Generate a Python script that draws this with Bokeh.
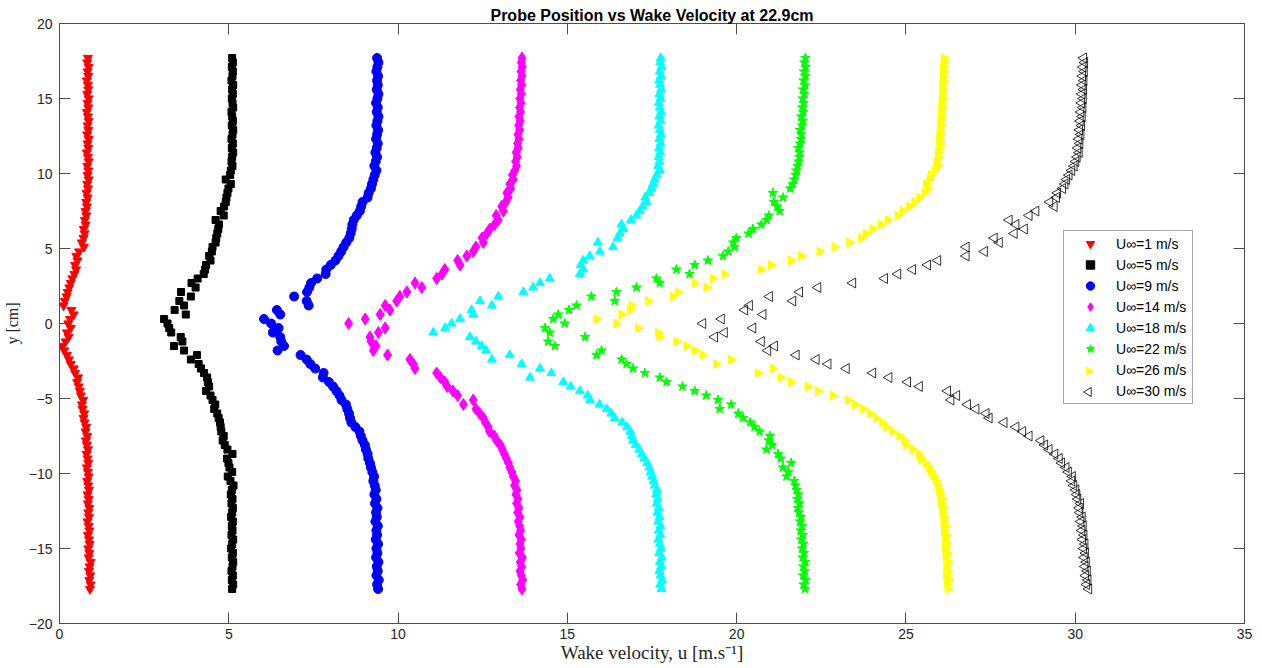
import math

from bokeh.plotting import figure
from bokeh.models import Range1d, LinearAxis, SingleIntervalTicker, Legend, LegendItem
from bokeh.embed import file_html
from bokeh.resources import INLINE

# Probe traverse positions (cm)
probe_y = [
    -17.7, -17.4, -17.1, -16.8, -16.5, -16.2, -15.9, -15.6, -15.3, -15.0,
    -14.7, -14.4, -14.1, -13.8, -13.5, -13.2, -12.9, -12.6, -12.3, -12.0,
    -11.7, -11.4, -11.1, -10.8, -10.5, -10.2, -9.9, -9.6, -9.3, -9.0,
    -8.7, -8.4, -8.1, -7.8, -7.5, -7.2, -6.9, -6.6, -6.3, -6.0,
    -5.7, -5.4, -5.1, -4.8, -4.5, -4.2, -3.9, -3.6, -3.3, -3.0,
    -2.7, -2.4, -2.1, -1.8, -1.5, -1.2, -0.9, -0.6, -0.3, 0.0,
    0.3, 0.6, 0.9, 1.2, 1.5, 1.8, 2.1, 2.4, 2.7, 3.0,
    3.3, 3.6, 3.9, 4.2, 4.5, 4.8, 5.1, 5.4, 5.7, 6.0,
    6.3, 6.6, 6.9, 7.2, 7.5, 7.8, 8.1, 8.4, 8.7, 9.0,
    9.3, 9.6, 9.9, 10.2, 10.5, 10.8, 11.1, 11.4, 11.7, 12.0,
    12.3, 12.6, 12.9, 13.2, 13.5, 13.8, 14.1, 14.4, 14.7, 15.0,
    15.3, 15.6, 15.9, 16.2, 16.5, 16.8, 17.1, 17.4, 17.7,
]

# Measured wake velocity (m/s) at each probe position, per free-stream speed
u_1 = [
    0.90, 0.92, 0.88, 0.91, 0.87, 0.89, 0.92, 0.86, 0.88, 0.85,
    0.89, 0.87, 0.84, 0.88, 0.86, 0.83, 0.87, 0.85, 0.88, 0.84,
    0.86, 0.83, 0.87, 0.85, 0.82, 0.86, 0.84, 0.81, 0.85, 0.83,
    0.80, 0.84, 0.81, 0.78, 0.82, 0.77, 0.79, 0.74, 0.71, 0.73,
    0.68, 0.66, 0.70, 0.63, 0.60, 0.57, 0.52, 0.55, 0.46, 0.42,
    0.33, 0.28, 0.22, 0.14, 0.09, 0.18, 0.27, 0.22, 0.33, 0.26,
    0.31, 0.42, 0.35, 0.12, 0.16, 0.21, 0.24, 0.29, 0.33, 0.38,
    0.44, 0.49, 0.46, 0.53, 0.50, 0.58, 0.72, 0.66, 0.71, 0.74,
    0.72, 0.77, 0.75, 0.79, 0.77, 0.81, 0.79, 0.83, 0.80, 0.84,
    0.82, 0.86, 0.83, 0.85, 0.82, 0.86, 0.84, 0.81, 0.85, 0.83,
    0.86, 0.82, 0.85, 0.83, 0.86, 0.84, 0.81, 0.85, 0.83, 0.86,
    0.82, 0.85, 0.84, 0.81, 0.85, 0.83, 0.86, 0.82, 0.84,
]
u_5 = [
    5.10, 5.13, 5.09, 5.12, 5.08, 5.11, 5.13, 5.09, 5.12, 5.07,
    5.10, 5.13, 5.08, 5.11, 5.09, 5.12, 5.07, 5.10, 5.12, 5.08,
    5.11, 5.06, 5.09, 5.14, 5.05, 4.97, 5.10, 5.02, 4.99, 4.95,
    5.11, 4.96, 4.88, 4.82, 4.85, 4.78, 4.76, 4.74, 4.70, 4.66,
    4.57, 4.60, 4.52, 4.46, 4.33, 4.42, 4.38, 4.36, 4.27, 4.18,
    4.11, 3.88, 4.06, 3.68, 3.38, 3.63, 3.58, 3.30, 3.24, 3.19,
    3.09, 3.73, 3.40, 3.68, 3.54, 3.88, 3.59, 4.02, 3.90, 4.08,
    4.26, 4.30, 4.33, 4.46, 4.42, 4.50, 4.52, 4.61, 4.63, 4.66,
    4.69, 4.71, 4.61, 4.85, 4.76, 4.86, 4.91, 4.93, 4.96, 4.99,
    5.06, 4.91, 5.04, 5.06, 5.11, 5.08, 5.10, 5.13, 5.09, 5.12,
    5.08, 5.11, 5.13, 5.09, 5.12, 5.10, 5.08, 5.13, 5.11, 5.09,
    5.12, 5.10, 5.13, 5.08, 5.11, 5.12, 5.09, 5.12, 5.10,
]
u_9 = [
    9.41, 9.38, 9.43, 9.36, 9.40, 9.37, 9.42, 9.35, 9.39, 9.36,
    9.41, 9.34, 9.38, 9.36, 9.40, 9.33, 9.37, 9.35, 9.39, 9.32,
    9.36, 9.30, 9.34, 9.31, 9.27, 9.29, 9.24, 9.20, 9.17, 9.12,
    9.10, 9.05, 9.02, 8.95, 8.90, 8.86, 8.74, 8.62, 8.58, 8.55,
    8.50, 8.46, 8.33, 8.27, 8.18, 8.08, 7.96, 7.78, 7.80, 7.55,
    7.41, 7.30, 7.12, 6.44, 6.63, 6.55, 6.52, 6.30, 6.47, 6.25,
    6.04, 6.52, 6.42, 7.36, 7.30, 6.93, 7.31, 7.38, 7.43, 7.61,
    7.86, 7.88, 8.01, 8.15, 8.24, 8.32, 8.39, 8.47, 8.56, 8.60,
    8.63, 8.65, 8.69, 8.78, 8.87, 8.91, 8.95, 9.10, 9.13, 9.20,
    9.23, 9.27, 9.31, 9.36, 9.30, 9.34, 9.38, 9.33, 9.37, 9.40,
    9.35, 9.38, 9.41, 9.36, 9.39, 9.42, 9.37, 9.40, 9.35, 9.39,
    9.42, 9.37, 9.40, 9.38, 9.41, 9.36, 9.39, 9.42, 9.38,
]
u_14 = [
    13.66, 13.62, 13.68, 13.64, 13.60, 13.65, 13.61, 13.67, 13.58, 13.63,
    13.60, 13.64, 13.57, 13.62, 13.59, 13.55, 13.60, 13.53, 13.57, 13.50,
    13.54, 13.48, 13.51, 13.44, 13.47, 13.40, 13.36, 13.30, 13.26, 13.20,
    13.14, 13.08, 13.02, 12.91, 12.84, 12.70, 12.66, 12.58, 12.52, 12.41,
    12.30, 11.93, 12.22, 11.76, 11.62, 11.45, 11.38, 11.25, 11.14, 10.50,
    10.45, 10.35, 9.69, 9.27, 9.35, 9.20, 9.17, 9.42, 9.62, 8.54,
    9.03, 9.47, 9.76, 9.62, 9.96, 10.05, 10.26, 10.70, 10.50, 11.14,
    11.30, 11.38, 11.83, 11.76, 12.03, 12.22, 12.30, 12.52, 12.48, 12.62,
    12.71, 12.85, 12.96, 12.90, 13.11, 13.06, 13.18, 13.25, 13.21, 13.33,
    13.30, 13.40, 13.38, 13.45, 13.50, 13.47, 13.52, 13.49, 13.55, 13.53,
    13.57, 13.54, 13.59, 13.56, 13.61, 13.57, 13.62, 13.59, 13.63, 13.60,
    13.64, 13.61, 13.65, 13.62, 13.66, 13.63, 13.67, 13.64, 13.66,
]
u_18 = [
    17.78, 17.74, 17.80, 17.75, 17.72, 17.77, 17.73, 17.79, 17.71, 17.76,
    17.73, 17.69, 17.74, 17.70, 17.75, 17.68, 17.72, 17.66, 17.70, 17.64,
    17.67, 17.62, 17.65, 17.58, 17.55, 17.50, 17.46, 17.42, 17.36, 17.27,
    17.20, 17.12, 17.02, 16.94, 16.90, 16.86, 16.76, 16.62, 16.40, 16.30,
    16.16, 15.95, 15.67, 15.60, 15.37, 15.10, 14.88, 13.90, 14.53, 14.19,
    13.65, 12.77, 13.30, 12.60, 12.47, 12.30, 12.12, 11.04, 11.39, 11.58,
    11.83, 12.22, 12.17, 12.77, 12.42, 12.96, 13.70, 13.99, 14.19, 14.48,
    15.37, 15.47, 15.40, 15.47, 15.66, 15.96, 16.35, 15.90, 16.48, 16.55,
    16.65, 16.60, 16.88, 17.04, 17.14, 17.22, 17.34, 17.30, 17.42, 17.48,
    17.53, 17.58, 17.64, 17.73, 17.68, 17.72, 17.70, 17.74, 17.71, 17.75,
    17.72, 17.76, 17.73, 17.70, 17.75, 17.72, 17.77, 17.73, 17.70, 17.75,
    17.72, 17.77, 17.74, 17.71, 17.76, 17.73, 17.78, 17.74, 17.76,
]
u_22 = [
    22.02, 21.98, 22.04, 21.96, 22.01, 21.97, 22.03, 21.95, 21.99, 21.93,
    21.97, 21.91, 21.95, 21.89, 21.93, 21.87, 21.90, 21.84, 21.81, 21.86,
    21.79, 21.83, 21.77, 21.74, 21.70, 21.47, 21.52, 21.37, 21.61, 21.30,
    21.22, 20.88, 21.05, 20.95, 20.98, 20.68, 20.53, 20.40, 20.19, 20.05,
    19.50, 19.84, 19.45, 19.10, 18.76, 18.40, 17.93, 17.73, 17.29, 16.94,
    16.75, 16.60, 15.86, 16.01, 14.63, 14.43, 15.52, 14.48, 14.34, 14.92,
    14.58, 14.73, 15.05, 15.27, 16.40, 15.71, 16.45, 17.04, 17.73, 17.63,
    18.61, 18.22, 18.76, 19.15, 19.60, 19.75, 19.94, 19.90, 19.99, 20.35,
    20.48, 20.73, 20.88, 20.95, 21.27, 21.20, 21.10, 21.37, 21.07, 21.58,
    21.66, 21.70, 21.74, 21.76, 21.80, 21.83, 21.85, 21.86, 21.82, 21.88,
    21.90, 21.91, 21.87, 21.93, 21.95, 21.91, 21.97, 21.94, 21.98, 21.95,
    22.00, 21.96, 22.02, 21.98, 22.03, 21.99, 22.04, 22.00, 22.03,
]
u_26 = [
    26.25, 26.21, 26.27, 26.19, 26.24, 26.20, 26.26, 26.18, 26.22, 26.16,
    26.21, 26.15, 26.19, 26.13, 26.17, 26.11, 26.14, 26.08, 26.11, 26.04,
    26.07, 26.01, 25.98, 25.94, 25.90, 25.82, 25.75, 25.69, 25.58, 25.45,
    25.38, 25.20, 25.00, 24.95, 24.81, 24.60, 24.41, 24.30, 24.12, 23.95,
    23.73, 23.50, 23.29, 22.84, 22.40, 22.10, 21.61, 21.30, 20.63, 21.07,
    19.40, 19.84, 19.00, 18.76, 18.52, 18.22, 17.73, 17.68, 17.09, 16.45,
    15.86, 16.60, 16.85, 16.90, 17.39, 18.12, 18.27, 19.11, 18.76, 19.30,
    19.64, 20.73, 21.02, 21.61, 21.91, 22.45, 22.89, 23.33, 23.68, 23.82,
    24.02, 24.27, 24.46, 24.76, 24.90, 25.10, 25.25, 25.40, 25.55, 25.64,
    25.60, 25.70, 25.74, 25.85, 25.94, 25.90, 25.97, 25.95, 25.99, 26.02,
    25.98, 26.03, 26.00, 26.05, 26.02, 26.07, 26.04, 26.08, 26.05, 26.10,
    26.07, 26.11, 26.08, 26.12, 26.09, 26.13, 26.10, 26.14, 26.12,
]
u_30 = [
    30.40, 30.34, 30.38, 30.31, 30.36, 30.29, 30.33, 30.27, 30.31, 30.25,
    30.29, 30.22, 30.26, 30.20, 30.24, 30.17, 30.21, 30.14, 30.12, 30.16,
    30.08, 30.05, 30.02, 29.96, 29.90, 29.92, 29.80, 29.73, 29.60, 29.53,
    29.40, 29.23, 29.10, 28.99, 28.64, 28.45, 28.25, 27.90, 27.46, 27.37,
    27.07, 26.82, 26.33, 26.50, 26.23, 25.40, 25.05, 24.50, 24.02, 23.24,
    22.70, 22.35, 21.76, 20.92, 21.12, 20.73, 19.35, 19.64, 20.48, 19.00,
    19.55, 20.78, 20.24, 20.38, 21.66, 20.97, 21.86, 22.40, 23.43, 24.37,
    24.76, 25.20, 25.64, 25.94, 26.78, 27.32, 26.78, 27.76, 27.61, 28.20,
    28.50, 28.25, 28.05, 28.64, 28.84, 29.38, 29.25, 29.45, 29.48, 29.63,
    29.70, 29.75, 29.82, 29.90, 29.97, 30.02, 30.06, 30.12, 30.08, 30.14,
    30.11, 30.17, 30.13, 30.19, 30.15, 30.21, 30.17, 30.23, 30.19, 30.24,
    30.20, 30.25, 30.21, 30.26, 30.22, 30.27, 30.23, 30.28, 30.25,
]

free_stream = [1, 5, 9, 14, 18, 22, 26, 30]
wake = [u_1, u_5, u_9, u_14, u_18, u_22, u_26, u_30]

TEXT = "#262626"
LINE = "#4d4d4d"
SANS = "Liberation Sans"
SERIF = "Liberation Serif"

W, H = 1262, 668
BORDER_L, BORDER_R, BORDER_T, BORDER_B = 58, 18, 23, 45
FRAME_W = W - BORDER_L - BORDER_R
FRAME_H = H - BORDER_T - BORDER_B

p = figure(
    width=W, height=H,
    output_backend="svg", toolbar_location=None,
    x_range=Range1d(0, 35), y_range=Range1d(-20, 20),
    min_border_left=BORDER_L, min_border_right=BORDER_R,
    min_border_top=BORDER_T, min_border_bottom=BORDER_B,
    background_fill_color="white", border_fill_color="white",
)
p.grid.visible = False
p.outline_line_color = LINE
p.outline_line_width = 1

# pixel-based ranges spanning the plot frame, used for legend swatches
p.extra_x_ranges = {"px": Range1d(0, FRAME_W)}
p.extra_y_ranges = {"px": Range1d(0, FRAME_H)}

p.title.text = "Probe Position vs Wake Velocity at 22.9cm"
p.title.align = "center"
p.title.text_font = SANS
p.title.text_font_size = "16px"
p.title.text_font_style = "bold"
p.title.text_color = "black"
p.title.standoff = 0
p.title.offset = 0


def style_axis(ax, show_labels):
    ax.axis_line_color = LINE
    ax.major_tick_line_color = LINE
    ax.major_tick_in = 11
    ax.major_tick_out = 0
    ax.minor_tick_in = 0
    ax.minor_tick_out = 0
    ax.minor_tick_line_color = None
    if show_labels:
        ax.major_label_text_font = SANS
        ax.major_label_text_font_size = "14px"
        ax.major_label_text_color = TEXT
    else:
        ax.major_label_text_font_size = "0px"
        ax.major_label_standoff = 0
        ax.major_label_text_color = None


xaxis = p.xaxis[0]
xaxis.ticker = SingleIntervalTicker(interval=5, num_minor_ticks=0)
style_axis(xaxis, True)
xaxis.major_label_standoff = 5
xaxis.axis_label = "Wake velocity, u [m.s\u207b\u00b9]"
xaxis.axis_label_text_font = SERIF
xaxis.axis_label_text_font_style = "normal"
xaxis.axis_label_text_font_size = "19px"
xaxis.axis_label_text_color = TEXT
xaxis.axis_label_standoff = 0

yaxis = p.yaxis[0]
yaxis.ticker = SingleIntervalTicker(interval=5, num_minor_ticks=0)
style_axis(yaxis, True)
yaxis.major_label_standoff = 7
yaxis.axis_label = "y [cm]"
yaxis.axis_label_text_font = SERIF
yaxis.axis_label_text_font_style = "normal"
yaxis.axis_label_text_font_size = "16px"
yaxis.axis_label_text_color = TEXT
yaxis.axis_label_standoff = 5

top_axis = LinearAxis(ticker=SingleIntervalTicker(interval=5, num_minor_ticks=0))
style_axis(top_axis, False)
p.add_layout(top_axis, "above")

right_axis = LinearAxis(ticker=SingleIntervalTicker(interval=5, num_minor_ticks=0))
style_axis(right_axis, False)
p.add_layout(right_axis, "right")

styles = [
    dict(marker="inverted_triangle", size=9, fill_color="#FF0000", line_color="#FF0000"),
    dict(marker="square", size=7, fill_color="#000000", line_color="#000000"),
    dict(marker="circle", size=9, fill_color="#0000FF", line_color="#0000FF"),
    dict(marker="diamond", size=12, fill_color="#FF00FF", line_color="#FF00FF"),
    dict(marker="triangle", size=9, fill_color="#00FFFF", line_color="#00FFFF"),
    dict(marker="star", size=10, fill_color="#00FF00", line_color="#00FF00"),
    dict(marker="triangle", size=9, fill_color="#FFFF00", line_color="#FFFF00",
         angle=-math.pi / 2),
    dict(marker="triangle", size=10, fill_color=None, line_color="#000000",
         line_width=0.8, angle=math.pi / 2),
]

# Legend layout (screen pixels relative to the frame's bottom-left corner)
LEG_X, LEG_Y = 1004, 219
LEG_PAD, ROW_H, GLYPH_W = 2, 21, 48
n_rows = len(free_stream)
leg_top = LEG_Y + 2 * LEG_PAD + n_rows * ROW_H
swatch_x = LEG_X + LEG_PAD + GLYPH_W / 2

items = []
for k, (speed, u, st) in enumerate(zip(free_stream, wake, styles)):
    r = p.scatter(x=u, y=probe_y, **st)
    label = f"U\u221e={speed} m/s"
    if "angle" in st:
        # legend swatches are never rotated, so the pointing marker is drawn
        # in the (transparent) legend row by a separate renderer
        proxy = p.scatter(x=[], y=[], marker="square", size=1,
                          fill_alpha=0, line_alpha=0)
        row_y = leg_top - LEG_PAD - ROW_H * (k + 0.5)
        swatch = dict(st)
        swatch["size"] = st["size"] - 1
        p.scatter(x=[swatch_x], y=[row_y], x_range_name="px", y_range_name="px",
                  **swatch)
        items.append(LegendItem(label=label, renderers=[proxy]))
    else:
        items.append(LegendItem(label=label, renderers=[r]))

legend = Legend(
    items=items,
    location=(LEG_X, LEG_Y),
    label_text_font=SANS,
    label_text_font_size="14px",
    label_text_color="black",
    label_standoff=2,
    label_height=ROW_H,
    label_width=74,
    glyph_height=ROW_H,
    glyph_width=GLYPH_W,
    spacing=0,
    padding=LEG_PAD,
    margin=0,
    border_line_color=LINE,
    border_line_width=1,
    background_fill_alpha=0.0,
)
p.add_layout(legend, "center")

open("out.html", "w").write(file_html(p, INLINE))
